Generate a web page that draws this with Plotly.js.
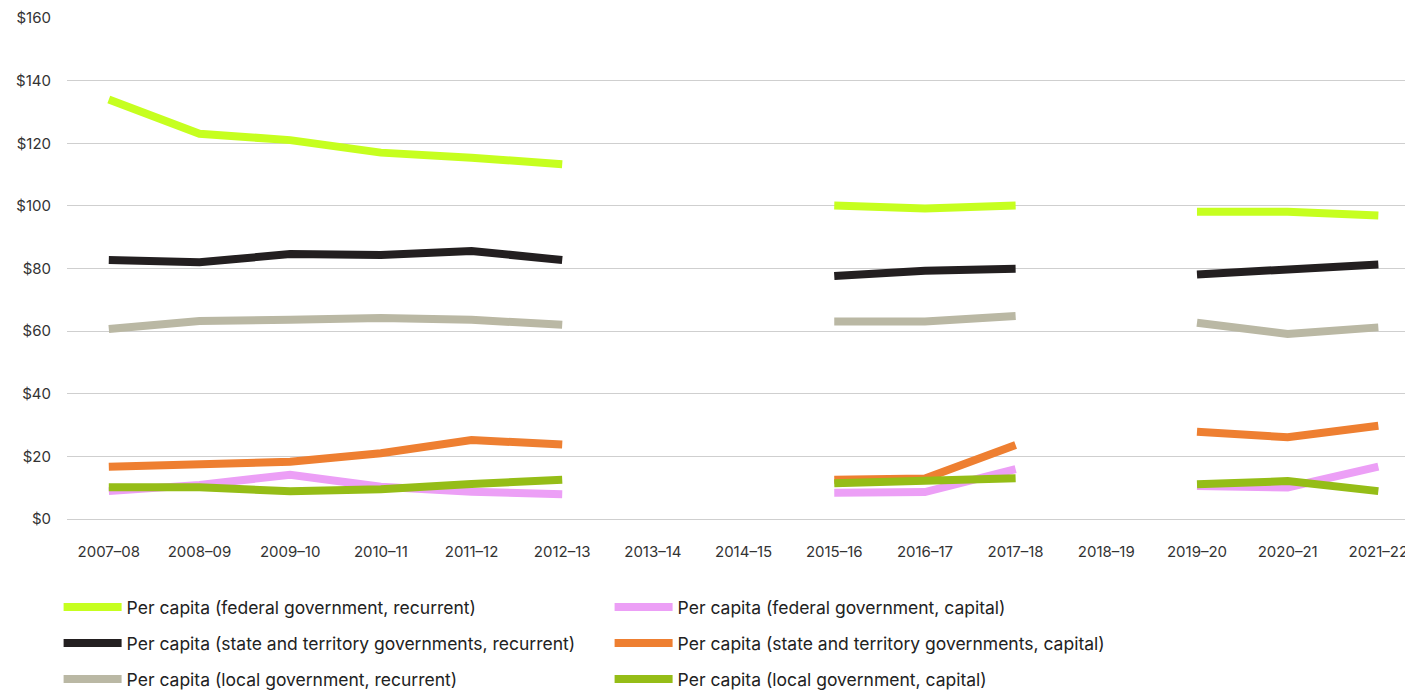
<!DOCTYPE html>
<html>
<head>
<meta charset="utf-8">
<script src="https://cdn.plot.ly/plotly-3.0.1.min.js"></script>
<style>html,body{margin:0;padding:0;background:#fff;}#chart{width:1405px;height:691px;}</style>
</head>
<body>
<div id="chart"></div>
<script>
const years = ["2007–08","2008–09","2009–10","2010–11","2011–12","2012–13","2013–14","2014–15","2015–16","2016–17","2017–18","2018–19","2019–20","2020–21","2021–22"];
const federalRecurrent = [134.0,123.0,121.0,117.0,115.4,113.3,null,null,100.1,99.2,100.1,null,98.1,98.1,96.9];
const stateRecurrent   = [82.7,82.0,84.6,84.3,85.6,82.7,null,null,77.6,79.3,79.9,null,78.1,79.9,81.3];
const localRecurrent   = [60.7,63.2,63.6,64.2,63.6,62.0,null,null,63.1,63.1,64.8,null,62.7,59.1,61.2];
const federalCapital   = [8.9,10.9,14.1,10.3,8.7,7.9,null,null,8.4,8.6,15.9,null,10.5,10.1,16.7];
const stateCapital     = [16.7,17.5,18.3,21.0,25.2,23.8,null,null,12.5,12.9,23.6,null,27.9,26.1,29.8];
const localCapital     = [10.1,10.1,8.9,9.5,11.2,12.5,null,null,11.4,12.5,13.0,null,11.1,12.1,8.9];
const yTicks = [0,20,40,60,80,100,120,140,160];
const yTickLabels = ["$0","$20","$40","$60","$80","$100","$120","$140","$160"];

const FONT = "Inter, 'Noto Sans', sans-serif";
function tr(name, y, color, legend) {
  return {type:'scatter', mode:'lines', x: years, y: y, name: name,
    line:{color: color, width: 8}, connectgaps:false, legend: legend, hoverinfo:'x+y+name'};
}
const data = [
  tr("Per capita (federal government, recurrent)", federalRecurrent, "#c6ff1f", "legend"),
  tr("Per capita (state and territory governments, recurrent)", stateRecurrent, "#231f20", "legend2"),
  tr("Per capita (local government, recurrent)", localRecurrent, "#bab8a4", "legend3"),
  tr("Per capita (federal government, capital)", federalCapital, "#ec9ff6", "legend"),
  tr("Per capita (state and territory governments, capital)", stateCapital, "#ee7f31", "legend2"),
  tr("Per capita (local government, capital)", localCapital, "#95bd17", "legend3")
];
function leg(py) {
  return {orientation:'h', xref:'container', yref:'container', x:58.6/1405, xanchor:'left',
    y:(691-py)/691, yanchor:'middle',
    entrywidth:478, entrywidthmode:'pixels', itemwidth:58,
    font:{family:FONT, size:17.5, color:'#222'}, bgcolor:'rgba(0,0,0,0)', traceorder:'normal'};
}
const layout = {
  width:1405, height:691,
  margin:{l:67, r:0, t:18, b:172, autoexpand:false},
  paper_bgcolor:'#fff', plot_bgcolor:'#fff',
  showlegend:true,
  legend: leg(607),
  legend2: leg(643),
  legend3: leg(679),
  xaxis:{type:'category', range:[-0.461, 14.294], showgrid:false, zeroline:false, showline:false,
    ticks:'', ticklabelstandoff:22, tickfont:{family:FONT, size:15, color:'#333'}, fixedrange:true, automargin:false},
  yaxis:{range:[0,160], tickvals:yTicks, ticktext:yTickLabels, tickmode:'array', showgrid:true, gridcolor:'#cfcfcf', gridwidth:1,
    zeroline:true, zerolinecolor:'#cfcfcf', zerolinewidth:1, showline:false, ticks:'', ticklabelstandoff:15,
    tickfont:{family:FONT, size:15, color:'#333'}, fixedrange:true, automargin:false}
};
Plotly.newPlot('chart', data, layout, {displayModeBar:false, staticPlot:true});
</script>
</body>
</html>
